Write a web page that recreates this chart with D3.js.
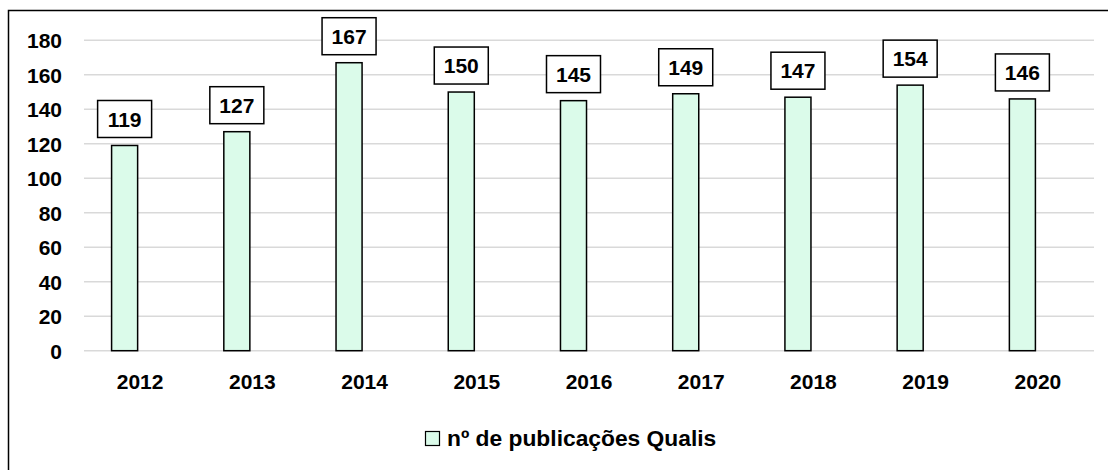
<!DOCTYPE html>
<html>
<head>
<meta charset="utf-8">
<script src="https://cdn.jsdelivr.net/npm/d3@7"></script>
<style>
  body { margin: 0; background: #fff; }
  text { font-family: "Liberation Sans", Arial, sans-serif; font-weight: bold; fill: #000; }
</style>
</head>
<body>
<div id="chart"></div>
<script>
// data
var years = ["2012", "2013", "2014", "2015", "2016", "2017", "2018", "2019", "2020"];
var publicacoes = [119, 127, 167, 150, 145, 149, 147, 154, 146];
var yTicks = [0, 20, 40, 60, 80, 100, 120, 140, 160, 180];
var seriesName = "nº de publicações Qualis";

var width = 1108, height = 470;

var svg = d3.select("#chart").append("svg")
    .attr("width", width)
    .attr("height", height);

// outer chart frame (right and bottom edges fall outside the picture)
svg.append("rect")
    .attr("x", 8.5).attr("y", 10.5)
    .attr("width", 1120).attr("height", 480)
    .attr("fill", "none")
    .attr("stroke", "#000")
    .attr("stroke-width", 1.5);

var x0 = d3.scaleBand()
    .domain(years)
    .range([84, 1094]);

// Excel-style cluster with an empty second slot, so the bar sits left of centre
var x1 = d3.scaleBand()
    .domain(["qualis", "empty"])
    .range([0, x0.bandwidth()])
    .paddingInner(0.16)
    .paddingOuter(0.89);

var y = d3.scaleLinear()
    .domain([0, 180])
    .range([350.7, 40.3]);

// gridlines
svg.append("g")
    .selectAll("line")
    .data(yTicks)
  .enter().append("line")
    .attr("x1", 84).attr("x2", 1094)
    .attr("y1", function(d) { return y(d); })
    .attr("y2", function(d) { return y(d); })
    .attr("stroke", "#d9d9d9")
    .attr("stroke-width", 1.5);

// y axis labels
var yAxis = d3.axisLeft(y).tickValues(yTicks).tickSize(0).tickPadding(0);
svg.append("g")
    .attr("transform", "translate(62,0)")
    .call(yAxis)
    .call(function(g) { g.select(".domain").remove(); })
    .selectAll("text")
    .style("font-size", "21px")
    .style("font-family", "'Liberation Sans', Arial, sans-serif")
    .style("font-weight", "bold")
    .attr("fill", "#000")
    .attr("dy", "0.36em");

// x axis labels
var xAxis = d3.axisBottom(x0).tickSize(0).tickPadding(0);
svg.append("g")
    .attr("transform", "translate(0,389)")
    .call(xAxis)
    .call(function(g) { g.select(".domain").remove(); })
    .selectAll("text")
    .style("font-size", "21px")
    .style("font-family", "'Liberation Sans', Arial, sans-serif")
    .style("font-weight", "bold")
    .attr("fill", "#000")
    .attr("dy", "0");

var barData = years.map(function(yr, i) { return { year: yr, value: publicacoes[i] }; });

// bars
svg.append("g")
    .selectAll("rect")
    .data(barData)
  .enter().append("rect")
    .attr("x", function(d) { return x0(d.year) + x1("qualis"); })
    .attr("y", function(d) { return y(d.value); })
    .attr("width", x1.bandwidth())
    .attr("height", function(d) { return y(0) - y(d.value); })
    .attr("fill", "#dbfbea")
    .attr("stroke", "#000")
    .attr("stroke-width", 1.5);

// value labels in boxes
var boxW = 54, boxH = 37, gap = 8;
var labels = svg.append("g")
    .selectAll("g")
    .data(barData)
  .enter().append("g")
    .attr("transform", function(d) {
      var cx = x0(d.year) + x1("qualis") + x1.bandwidth() / 2;
      return "translate(" + cx + "," + (y(d.value) - gap - boxH / 2) + ")";
    });

labels.append("rect")
    .attr("x", -boxW / 2).attr("y", -boxH / 2)
    .attr("width", boxW).attr("height", boxH)
    .attr("fill", "#fff")
    .attr("stroke", "#000")
    .attr("stroke-width", 1.5);

labels.append("text")
    .attr("text-anchor", "middle")
    .attr("dy", "0.36em")
    .style("font-size", "21px")
    .text(function(d) { return d.value; });

// legend
var legend = svg.append("g").attr("transform", "translate(425,431)");
legend.append("rect")
    .attr("x", 0.5).attr("y", 0.5)
    .attr("width", 14).attr("height", 14)
    .attr("fill", "#dbfbea")
    .attr("stroke", "#000")
    .attr("stroke-width", 1.2);
legend.append("text")
    .attr("x", 22).attr("y", 14.5)
    .style("font-size", "22.8px")
    .text(seriesName);
</script>
</body>
</html>
